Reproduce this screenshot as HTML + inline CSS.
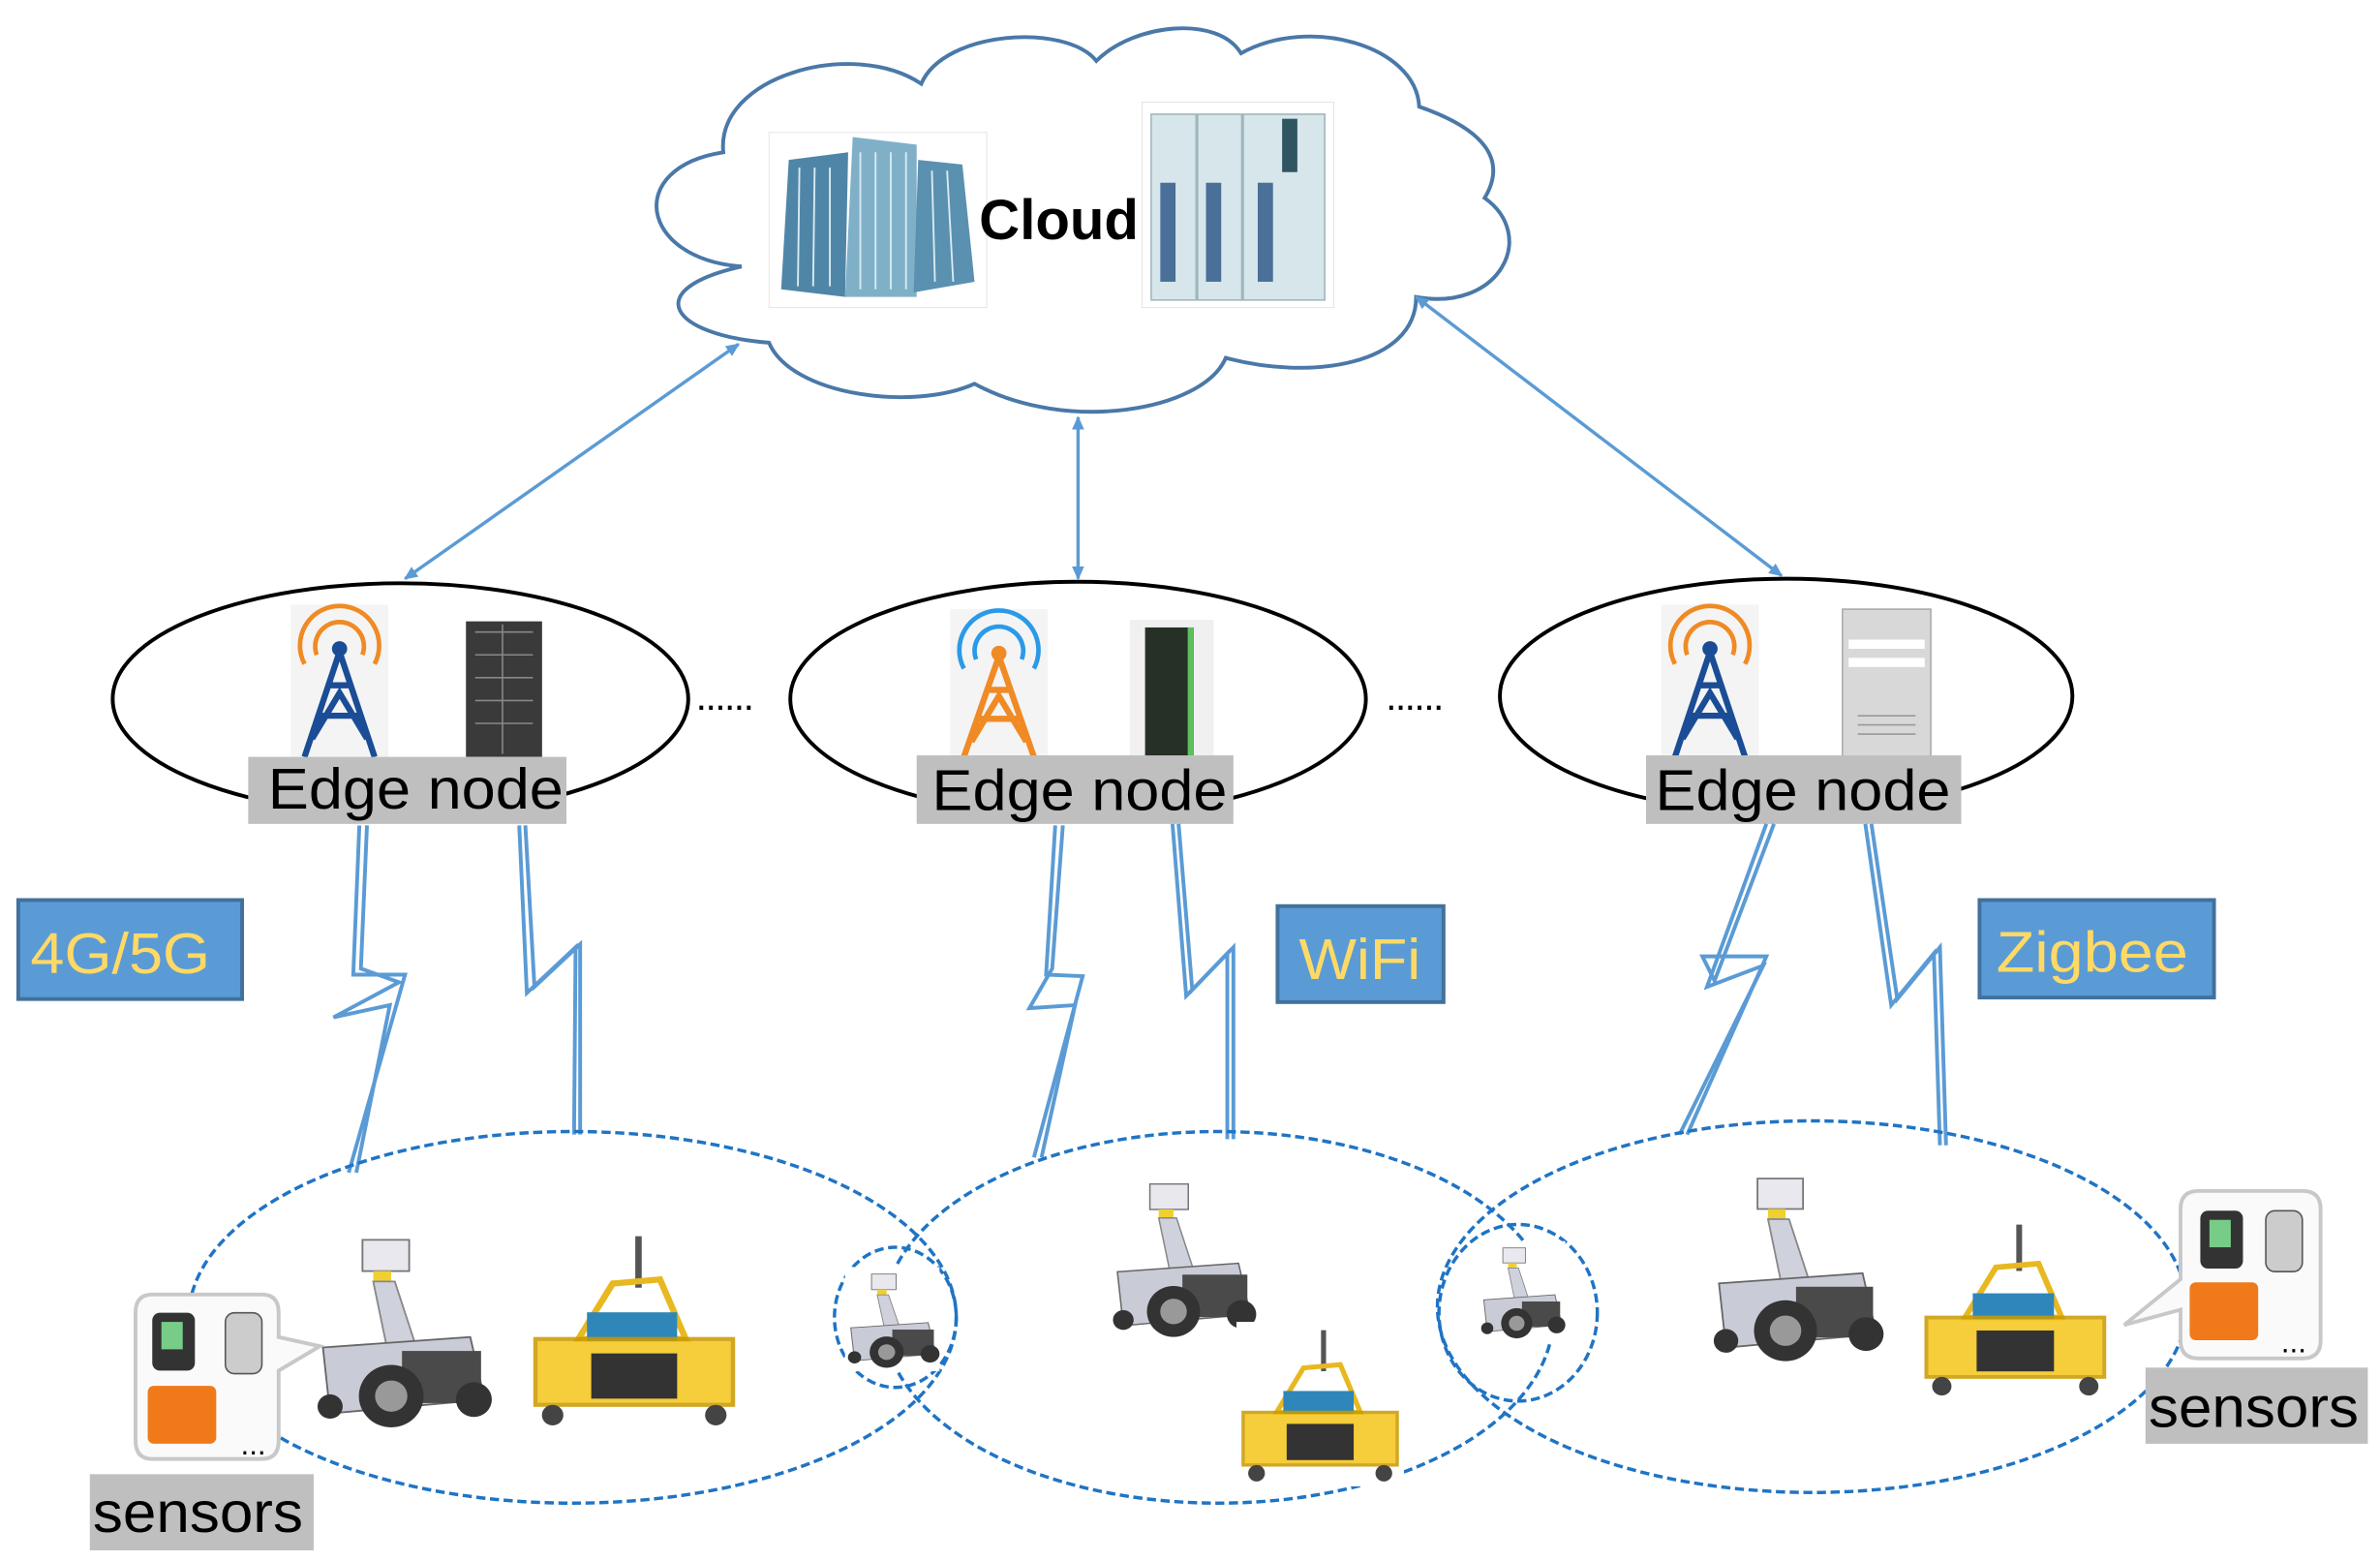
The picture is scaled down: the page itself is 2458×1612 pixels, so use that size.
<!DOCTYPE html>
<html><head><meta charset="utf-8"><style>
html,body{margin:0;padding:0;background:#fff;}
svg{display:block;}
text{font-family:"Liberation Sans","DejaVu Sans",sans-serif;}
</style></head><body>
<svg width="2458" height="1612" viewBox="0 0 1563 1025" preserveAspectRatio="none" xmlns="http://www.w3.org/2000/svg">
<defs>
<marker id="ah" markerWidth="10" markerHeight="10" refX="8" refY="5" orient="auto-start-reverse" markerUnits="userSpaceOnUse">
<path d="M0,1 L9,5 L0,9 Z" fill="#5b9bd5"/></marker>
<g id="robot">
<rect x="0" y="0" width="100" height="120" fill="#fff"/>
<rect x="28" y="8" width="26" height="18" fill="#e8e8ee" stroke="#777"/>
<rect x="34" y="26" width="10" height="6" fill="#f0d030"/>
<polygon points="34,32 46,32 58,70 42,72" fill="#cfd2dc" stroke="#888"/>
<polygon points="6,70 88,64 96,100 10,108" fill="#c9ccd6" stroke="#666"/>
<rect x="50" y="72" width="44" height="30" fill="#4a4a4a"/>
<circle cx="44" cy="98" r="18" fill="#333"/><circle cx="44" cy="98" r="9" fill="#999"/>
<circle cx="10" cy="104" r="7" fill="#333"/>
<circle cx="90" cy="100" r="10" fill="#333"/>
</g>
<g id="cart">
<rect x="0" y="0" width="100" height="100" fill="#fff"/>
<line x1="52" y1="5" x2="52" y2="30" stroke="#555" stroke-width="3"/>
<polygon points="40,28 62,26 74,55 24,55" fill="none" stroke="#e8b820" stroke-width="3"/>
<rect x="28" y="42" width="42" height="14" fill="#2f86b8"/>
<rect x="4" y="55" width="92" height="32" fill="#f5c518" opacity="0.85" stroke="#c99a00" stroke-width="2"/>
<rect x="30" y="62" width="40" height="22" fill="#333"/>
<circle cx="12" cy="92" r="5" fill="#444"/><circle cx="88" cy="92" r="5" fill="#444"/>
</g>
</defs>

<!-- Cloud -->
<g fill="#fff" stroke="#4a78a8" stroke-width="2.5">
<path d="M487,175 C420,170 410,110 475,100 C470,50 560,25 605,55 C620,20 700,15 720,40 C745,15 800,10 815,35 C860,10 930,30 932,70 C975,85 990,105 975,130 C1010,155 985,205 930,195 C930,240 860,250 805,235 C790,270 700,285 640,252 C600,270 520,260 505,225 C440,220 420,190 487,175 Z"/>
</g>
<!-- buildings -->
<rect x="505" y="87" width="143" height="115" fill="#fff" stroke="#ddd" stroke-width="0.5"/>
<polygon points="513,190 518,105 557,100 555,195" fill="#4f86a8"/>
<polygon points="555,195 560,90 602,95 602,195" fill="#7fb0c8"/>
<polygon points="600,192 603,105 632,108 640,185" fill="#5a90b0"/>
<g stroke="#d8eaf2" stroke-width="1.2">
<line x1="565" y1="100" x2="565" y2="190"/><line x1="575" y1="100" x2="575" y2="190"/><line x1="585" y1="100" x2="585" y2="190"/><line x1="595" y1="100" x2="595" y2="190"/>
<line x1="525" y1="110" x2="524" y2="188"/><line x1="535" y1="110" x2="534" y2="188"/><line x1="545" y1="110" x2="545" y2="188"/>
<line x1="612" y1="112" x2="614" y2="185"/><line x1="622" y1="112" x2="626" y2="185"/>
</g>
<!-- server -->
<rect x="750" y="67" width="126" height="135" fill="#fff" stroke="#ddd" stroke-width="0.5"/>
<rect x="756" y="75" width="114" height="122" fill="#d6e6ea" stroke="#9fb6bd"/>
<line x1="786" y1="75" x2="786" y2="197" stroke="#9fb6bd" stroke-width="2"/>
<line x1="816" y1="75" x2="816" y2="197" stroke="#9fb6bd" stroke-width="2"/>
<rect x="842" y="78" width="10" height="35" fill="#2e5560"/>
<g fill="#4a6f98">
<rect x="762" y="120" width="10" height="65"/><rect x="792" y="120" width="10" height="65"/><rect x="826" y="120" width="10" height="65"/>
</g>
<text x="643" y="157" font-size="37" font-weight="bold" fill="#000">Cloud</text>

<!-- arrows -->
<g stroke="#5b9bd5" stroke-width="2.2" fill="none">
<line x1="485" y1="226" x2="266" y2="380" marker-start="url(#ah)" marker-end="url(#ah)"/>
<line x1="708" y1="274" x2="708" y2="380" marker-start="url(#ah)" marker-end="url(#ah)"/>
<line x1="930" y1="195" x2="1170" y2="378" marker-start="url(#ah)" marker-end="url(#ah)"/>
</g>

<!-- Edge ellipses -->
<g fill="none" stroke="#000" stroke-width="2.5">
<ellipse cx="263" cy="459" rx="189" ry="76"/>
<ellipse cx="708" cy="459" rx="189" ry="77"/>
<ellipse cx="1173" cy="457" rx="188" ry="77"/>
</g>
<text x="457" y="466" font-size="26" fill="#000" letter-spacing="-1">......</text>
<text x="910" y="466" font-size="26" fill="#000" letter-spacing="-1">......</text>

<!-- towers -->
<g id="tw1">
<rect x="191" y="397" width="64" height="100" fill="#f4f4f4"/>
<g fill="none" stroke="#f08a24" stroke-width="3"><path d="M208,430 A16,16 0 1 1 238,430"/><path d="M200,436 A26,26 0 1 1 246,436"/></g>
<g stroke="#1a4d96" stroke-width="4" fill="none"><path d="M223,428 L200,497 M223,428 L246,497 M209,470 L237,470 M215,450 L231,450 M205,485 L223,455 L241,485"/></g>
<circle cx="223" cy="426" r="5" fill="#1a4d96"/>
</g>
<rect x="306" y="408" width="50" height="89" fill="#3a3a3a"/>
<g stroke="#888" stroke-width="1"><line x1="312" y1="415" x2="350" y2="415"/><line x1="312" y1="430" x2="350" y2="430"/><line x1="312" y1="445" x2="350" y2="445"/><line x1="312" y1="460" x2="350" y2="460"/><line x1="312" y1="475" x2="350" y2="475"/><line x1="330" y1="410" x2="330" y2="495"/></g>

<rect x="624" y="400" width="64" height="97" fill="#f4f4f4"/>
<g fill="none" stroke="#2a9ae8" stroke-width="3"><path d="M641,433 A16,16 0 1 1 671,433"/><path d="M633,439 A26,26 0 1 1 679,439"/></g>
<g stroke="#f08a24" stroke-width="4" fill="none"><path d="M656,431 L633,497 M656,431 L679,497 M642,472 L670,472 M648,453 L664,453 M638,487 L656,457 L674,487"/></g>
<circle cx="656" cy="429" r="5" fill="#f08a24"/>
<rect x="742" y="407" width="55" height="90" fill="#f0f0f0"/>
<rect x="752" y="412" width="32" height="85" fill="#263026"/>
<rect x="780" y="412" width="4" height="85" fill="#5fbf5f"/>

<rect x="1091" y="397" width="64" height="100" fill="#f4f4f4"/>
<g fill="none" stroke="#f08a24" stroke-width="3"><path d="M1108,430 A16,16 0 1 1 1138,430"/><path d="M1100,436 A26,26 0 1 1 1146,436"/></g>
<g stroke="#1a4d96" stroke-width="4" fill="none"><path d="M1123,428 L1100,497 M1123,428 L1146,497 M1109,470 L1137,470 M1115,450 L1131,450 M1105,485 L1123,455 L1141,485"/></g>
<circle cx="1123" cy="426" r="5" fill="#1a4d96"/>
<rect x="1210" y="400" width="58" height="97" fill="#d8d8d8" stroke="#aaa"/>
<rect x="1214" y="420" width="50" height="6" fill="#fff"/><rect x="1214" y="432" width="50" height="6" fill="#fff"/>
<g stroke="#999"><line x1="1220" y1="470" x2="1258" y2="470"/><line x1="1220" y1="476" x2="1258" y2="476"/><line x1="1220" y1="482" x2="1258" y2="482"/></g>

<!-- Edge node labels -->
<g fill="#bfbfbf">
<rect x="163" y="497" width="209" height="44"/>
<rect x="602" y="496" width="208" height="45"/>
<rect x="1081" y="496" width="207" height="45"/>
</g>
<g font-size="38" fill="#000">
<text x="176" y="531" textLength="194" lengthAdjust="spacingAndGlyphs">Edge node</text>
<text x="612" y="532" textLength="194" lengthAdjust="spacingAndGlyphs">Edge node</text>
<text x="1087" y="532" textLength="194" lengthAdjust="spacingAndGlyphs">Edge node</text>
</g>

<!-- lightning -->
<g fill="none" stroke="#5b9bd5" stroke-width="2.5" stroke-linejoin="miter">
<polyline points="236,542 232,640 266,640 229,770"/>
<polyline points="241,542 237,636 262,645 219,668 256,660 234,770"/>
<polyline points="341,542 346,652 378,622 377,745"/>
<polyline points="345,542 351,648 381,620 381,745"/>
<polyline points="693,542 687,640 711,641 679,760"/>
<polyline points="698,542 691,636 676,662 706,660 684,760"/>
<polyline points="770,541 779,654 806,626 806,748"/>
<polyline points="774,541 783,650 810,622 810,748"/>
<polyline points="1160,541 1121,648 1158,634 1103,745"/>
<polyline points="1165,541 1126,644 1118,628 1160,628 1108,745"/>
<polyline points="1225,541 1242,660 1270,626 1274,752"/>
<polyline points="1229,541 1246,656 1274,622 1278,752"/>
</g>

<!-- protocol boxes -->
<g fill="#5b9bd5" stroke="#41719c" stroke-width="2.5">
<rect x="12" y="591" width="147" height="65"/>
<rect x="839" y="595" width="109" height="63"/>
<rect x="1300" y="591" width="154" height="64"/>
</g>
<g font-size="38" fill="#ffd966">
<text x="20" y="639" textLength="118" lengthAdjust="spacingAndGlyphs">4G/5G</text>
<text x="853" y="643" textLength="80" lengthAdjust="spacingAndGlyphs">WiFi</text>
<text x="1311" y="638" textLength="126" lengthAdjust="spacingAndGlyphs">Zigbee</text>
</g>

<!-- dashed ellipses -->
<g fill="none" stroke="#1f74c4" stroke-width="2.2" stroke-dasharray="6,3">
<ellipse cx="376" cy="865" rx="252" ry="122"/>
<ellipse cx="800" cy="865" rx="220" ry="122"/>
<ellipse cx="1190" cy="858" rx="246" ry="122"/>
<ellipse cx="588" cy="865" rx="40" ry="46"/>
<ellipse cx="997" cy="862" rx="52" ry="58"/>
</g>

<!-- robots & carts -->
<use href="#robot" transform="translate(205,805) scale(1.18,1.14)"/>
<use href="#cart" transform="translate(346,805) scale(1.41,1.35)"/>
<use href="#robot" transform="translate(555,832) scale(0.62,0.57)"/>
<use href="#robot" transform="translate(728,770) scale(0.97,0.93)"/>
<use href="#cart" transform="translate(812,868) scale(1.1,1.08)"/>
<use href="#robot" transform="translate(971,815) scale(0.57,0.55)"/>
<use href="#robot" transform="translate(1122,765) scale(1.15,1.11)"/>
<use href="#cart" transform="translate(1260,798) scale(1.27,1.22)"/>

<!-- sensor callouts -->
<path d="M100,850 L172,850 Q183,850 183,862 L183,878 L210,884 L183,900 L183,946 Q183,958 172,958 L100,958 Q89,958 89,946 L89,862 Q89,850 100,850 Z" fill="#fafafa" stroke="#c8c8c8" stroke-width="2.5"/>
<rect x="100" y="862" width="28" height="38" fill="#333" rx="5"/><rect x="106" y="868" width="14" height="18" fill="#7c8"/>
<rect x="148" y="862" width="24" height="40" fill="#ccc" stroke="#555" rx="6"/>
<rect x="97" y="910" width="45" height="38" fill="#f07a1a" rx="4"/>
<text x="158" y="955" font-size="20" fill="#000">...</text>
<path d="M1444,782 L1512,782 Q1524,782 1524,794 L1524,880 Q1524,892 1512,892 L1444,892 Q1432,892 1432,880 L1432,860 L1395,870 L1432,840 L1432,794 Q1432,782 1444,782 Z" fill="#fafafa" stroke="#c8c8c8" stroke-width="2.5"/>
<rect x="1445" y="795" width="28" height="38" fill="#333" rx="5"/><rect x="1451" y="801" width="14" height="18" fill="#7c8"/>
<rect x="1488" y="795" width="24" height="40" fill="#ccc" stroke="#555" rx="6"/>
<rect x="1438" y="842" width="45" height="38" fill="#f07a1a" rx="4"/>
<text x="1498" y="888" font-size="20" fill="#000">...</text>

<!-- sensors labels -->
<rect x="59" y="968" width="147" height="50" fill="#bfbfbf"/>
<rect x="1409" y="898" width="146" height="50" fill="#bfbfbf"/>
<text x="61" y="1006" font-size="38" fill="#000" textLength="138" lengthAdjust="spacingAndGlyphs">sensors</text>
<text x="1411" y="937" font-size="38" fill="#000" textLength="138" lengthAdjust="spacingAndGlyphs">sensors</text>
</svg>
</body></html>
